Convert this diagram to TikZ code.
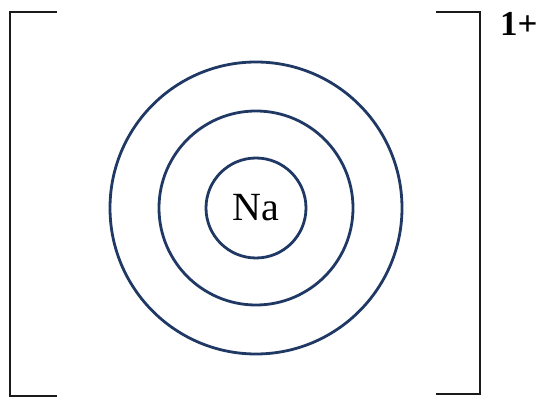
\documentclass[tikz,border=0pt]{standalone}
\usepackage{fontspec}
\setmainfont{Liberation Serif}
\usepackage{xcolor}
\definecolor{shellblue}{HTML}{1F3864}
\definecolor{bracketgray}{HTML}{1A1A1A}
\usepackage{tikz}
\usetikzlibrary{positioning}

\begin{document}
\begin{tikzpicture}[x=1pt, y=-1pt,
    shell/.style={circle, draw=shellblue, line width=2.8pt, inner sep=0pt},
    bracket/.style={draw=bracketgray, line width=2pt}]
  \useasboundingbox (0,0) rectangle (539,398);

  % energy levels of the ion
  \node[shell, minimum size=292pt] (outer)  at (256,208) {};
  \node[shell, minimum size=194pt] (middle) at (256,208) {};
  \node[shell, minimum size=100pt, font=\fontsize{40}{40}\selectfont] (core) at (256,208) {Na};

  % square brackets
  \draw[bracket] (57,12) -- (10,12) -- (10,396) -- (57,396);
  \draw[bracket] (436,12) -- (480,12) -- (480,394) -- (436,394);

  \node[font=\bfseries\fontsize{35}{35}\selectfont, anchor=west, inner sep=0pt] (charge) at (500,24) {1+};
\end{tikzpicture}
\end{document}
